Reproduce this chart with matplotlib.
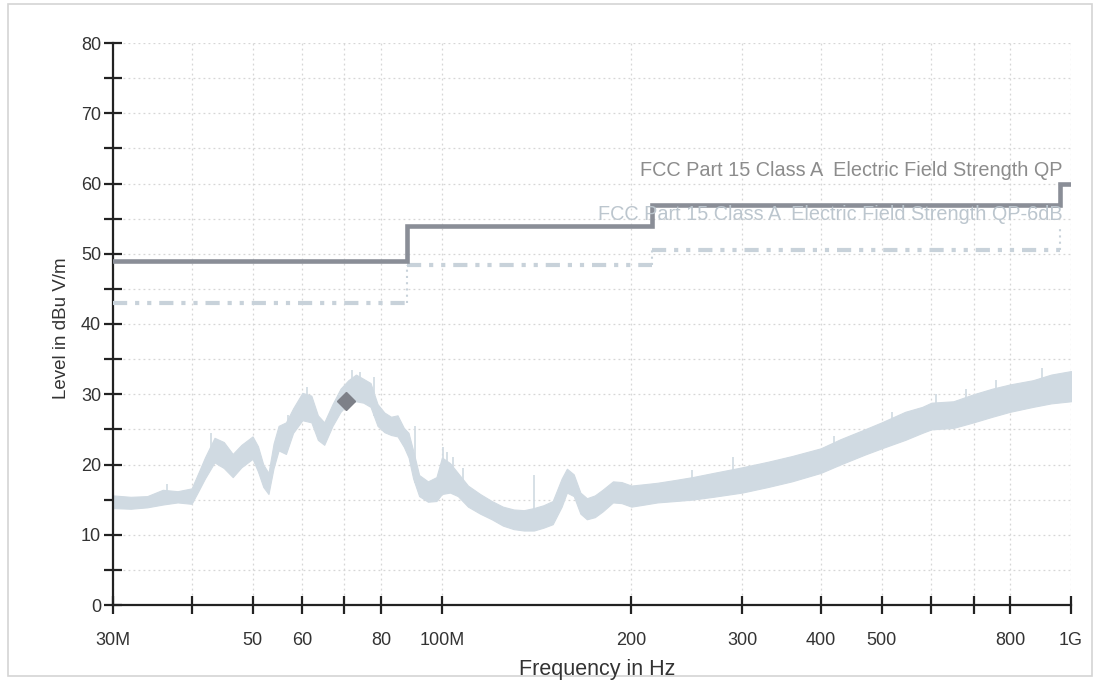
import matplotlib
matplotlib.use("Agg")
import matplotlib.pyplot as plt
from matplotlib.patches import Rectangle
import numpy as np

plt.rcParams['font.family'] = ['Liberation Sans', 'DejaVu Sans']

trace_freq = [30, 32, 34, 36, 38, 40, 41, 42, 43.5, 45, 46.5, 48, 50, 51, 52, 53, 54, 55,
              56.5, 58, 60, 62, 63.5, 65, 67, 69, 71, 73, 75, 77, 79, 81, 83, 85, 87, 88.5,
              90, 92, 95, 98, 100, 103, 106, 110, 115, 120, 125, 130, 135, 140, 145, 150,
              155, 158, 162, 166, 170, 175, 180, 187, 193, 200, 210, 220, 235, 250, 270,
              300, 330, 360, 400, 430, 470, 500, 545, 580, 600, 650, 700, 750, 800, 870,
              930, 1000]
trace_low = [13.8, 13.7, 13.9, 14.3, 14.6, 14.4, 16.2, 18.0, 20.3, 19.5, 18.2, 19.6, 20.8,
             19.0, 16.8, 15.8, 19.5, 22.0, 21.5, 24.5, 26.3, 26.0, 23.5, 22.8, 25.5, 27.5,
             28.7, 29.0, 28.8, 28.2, 25.5, 24.6, 24.2, 24.0, 22.5, 21.0, 18.0, 15.5, 14.7,
             14.8, 15.8, 16.0, 15.5, 14.0, 13.0, 12.2, 11.3, 10.8, 10.6, 10.6, 11.0, 11.5,
             14.0, 16.0, 15.5, 13.0, 12.2, 12.5, 13.3, 14.6, 14.5, 14.0, 14.3, 14.6, 14.8,
             15.0, 15.4, 16.0, 16.8, 17.6, 18.8, 20.0, 21.4, 22.3, 23.5, 24.5, 25.0, 25.2,
             26.0, 26.8, 27.5, 28.2, 28.7, 29.0]
trace_high = [15.6, 15.4, 15.5, 16.4, 16.2, 16.6, 18.8, 21.0, 23.8, 23.2, 21.5, 22.8, 24.0,
              22.6, 20.0, 18.8, 23.0, 25.5, 26.0, 28.0, 30.2, 29.8, 27.0, 26.0, 28.6, 30.8,
              32.0, 32.8, 32.2, 31.6, 28.6, 27.4, 26.8, 27.0, 25.2, 24.5, 22.0, 18.5, 17.6,
              18.2, 21.0, 20.2, 18.8, 17.0, 15.8, 14.8, 14.0, 13.6, 13.5, 13.8, 14.2, 14.8,
              18.0, 19.4, 18.6, 16.0, 15.2, 15.6, 16.4, 17.6, 17.5, 17.0, 17.2, 17.4, 17.8,
              18.2, 18.8, 19.6, 20.4, 21.2, 22.3, 23.6, 25.0, 26.0, 27.5, 28.2, 28.8, 29.0,
              30.0, 30.8, 31.4, 32.0, 32.8, 33.3]

# visible noise spikes above the band
spike_freq = [36.5, 43, 57, 61, 72, 74, 78, 90.5, 100.5, 102, 104, 108, 140, 250, 290, 420,
              520, 610, 680, 760, 900]
spike_top = [17.2, 24.5, 27.0, 31.0, 33.5, 33.2, 32.5, 25.5, 22.5, 21.8, 21.0, 19.5, 18.5,
             19.2, 21.0, 24.0, 27.5, 30.0, 30.8, 32.0, 33.8]

# QP final measurement
qp_freq = [70.4]
qp_level = [29.0]

# FCC Part 15 Class A limit and the 6 dB margin line
limit_freq = [30, 88, 216, 960, 1000]
limit_qp = [49, 54, 56.9, 60, 60]
limit_qp6 = [43, 48.4, 50.5, 54, 54]

x_ticks = [30, 40, 50, 60, 70, 80, 100, 200, 300, 400, 500, 600, 700, 800, 1000]
x_labels = ['30M', '', '50', '60', '', '80', '100M', '200', '300', '400', '500', '', '', '800', '1G']

fig = plt.figure(figsize=(10.98, 6.8), dpi=100)
fig.patch.set_facecolor('white')
fig.patches.append(Rectangle((8 / 1098, 4 / 680), 1084 / 1098, 672 / 680, transform=fig.transFigure,
                             fill=False, edgecolor='#d4d4d4', linewidth=1.2))

ax = fig.add_axes([113 / 1098, 1 - 605 / 680, 958 / 1098, 562 / 680])
ax.set_xscale('log')

f_hz = np.array(trace_freq) * 1e6
trace_color = '#d0dae2'
ax.fill_between(f_hz, trace_low, trace_high, color=trace_color, linewidth=0.8,
                edgecolor=trace_color, zorder=2)
ax.vlines(np.array(spike_freq) * 1e6, np.interp(spike_freq, trace_freq, trace_low), spike_top,
          color=trace_color, linewidth=1.2, zorder=2)

# limit lines
lf = np.array(limit_freq) * 1e6
ax.step(lf, limit_qp, where='post', color='#8a8e97', linewidth=3.3, zorder=4,
        solid_joinstyle='miter')
margin_color = '#c8d2da'
ax.hlines(limit_qp6[:-2], lf[:-2], lf[1:-1], color=margin_color, linewidth=3.0,
          linestyles=[(0, (3.4, 1.9, 1.0, 1.9, 1.0, 1.9))], zorder=3)
ax.vlines(lf[1:-1], limit_qp6[:-2], limit_qp6[1:-1], color=margin_color, linewidth=1.5,
          linestyles=[(0, (1, 2))], zorder=3)

ax.plot(np.array(qp_freq) * 1e6, qp_level, 'D', color='#7d8088', markersize=9, zorder=5)

ax.text(0.991, 61.8, 'FCC Part 15 Class A  Electric Field Strength QP', transform=ax.get_yaxis_transform(),
        ha='right', va='center', fontsize=14.3, color='#8c8c8c', zorder=6)
ax.text(0.991, 55.6, 'FCC Part 15 Class A  Electric Field Strength QP-6dB', transform=ax.get_yaxis_transform(),
        ha='right', va='center', fontsize=14.3, color='#bcc6ce', zorder=6)

ax.set_xlim(30e6, 1e9)
ax.set_ylim(0, 80)
ax.set_xticks([t * 1e6 for t in x_ticks])
ax.set_xticklabels(x_labels)
ax.xaxis.set_minor_locator(matplotlib.ticker.NullLocator())
ax.set_yticks(range(0, 81, 10))
ax.set_yticks(range(5, 80, 10), minor=True)

for s in ['top', 'right']:
    ax.spines[s].set_visible(False)
for s in ['left', 'bottom']:
    ax.spines[s].set_color('#222222')
    ax.spines[s].set_linewidth(1.6)

ax.tick_params(which='both', direction='inout', length=13, width=1.6, color='#222222')
ax.tick_params(axis='x', pad=13, labelsize=13, labelcolor='#333333')
ax.tick_params(axis='y', pad=2, labelsize=13, labelcolor='#333333')

ax.grid(True, which='both', axis='y', color='#d6d6d6', linestyle=(0, (1.5, 2.5)), linewidth=0.9)
ax.grid(True, which='major', axis='x', color='#d6d6d6', linestyle=(0, (1.5, 2.5)), linewidth=0.9)
ax.set_axisbelow(True)

fig.text(61 / 1098, 1 - 328 / 680, 'Level in dBu V/m', rotation=90, ha='center', va='center',
         fontsize=13.5, color='#333333')
fig.text(597 / 1098, 1 - 659 / 680, 'Frequency in Hz', ha='center', va='top',
         fontsize=15.5, color='#333333')

fig.savefig('out.png', dpi=100, facecolor='white')
